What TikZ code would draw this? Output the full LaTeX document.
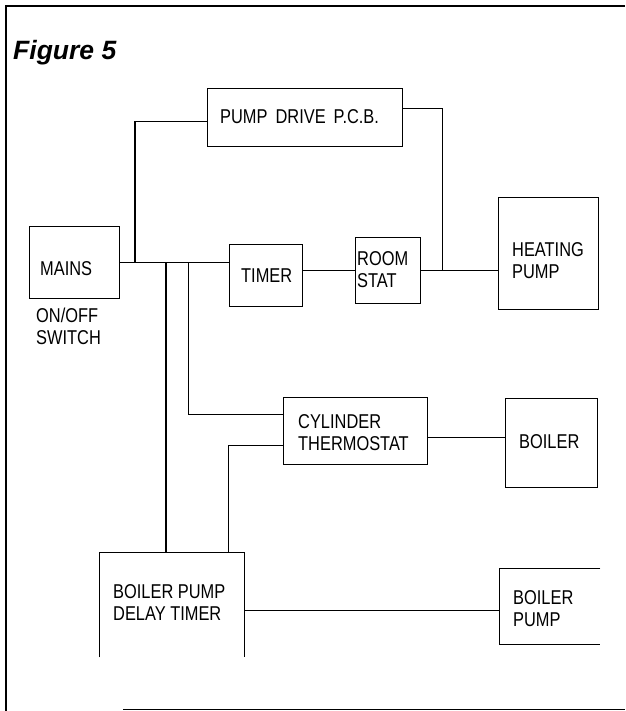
\documentclass[tikz,border=0pt]{standalone}
\usepackage{fontspec}
\setmainfont{Liberation Sans}
\newfontfamily\lab[FakeStretch=0.82]{Liberation Sans}
\begin{document}
\begin{tikzpicture}[x=1pt,y=-1pt,
  box/.style={draw, line width=1pt, inner sep=0pt, anchor=north west},
  openbox/.style={inner sep=0pt, anchor=north west},
  wire/.style={line width=1pt},
  thickwire/.style={line width=1.8pt},
  lbl/.style={font=\lab\fontsize{20}{22}\selectfont, align=left, inner sep=0pt, anchor=base west}]
\useasboundingbox (0,0) rectangle (625,711);
% frame
\draw[line width=2pt] (6,711) -- (6,6) -- (625,6);
\draw[line width=1pt] (123,709) -- (625,709);
\node[inner sep=0pt, anchor=base west, font=\fontsize{26.5}{30}\selectfont\bfseries\itshape] (title) at (13,60) {Figure 5};
% boxes
\node[box, minimum width=195pt, minimum height=58pt] (pcb) at (207,88) {};
\node[box, minimum width=90pt, minimum height=72pt] (mains) at (29,226) {};
\node[box, minimum width=73pt, minimum height=62pt] (timer) at (229,244) {};
\node[box, minimum width=65pt, minimum height=66pt] (room) at (355,237) {};
\node[box, minimum width=100pt, minimum height=112pt] (heat) at (498,197) {};
\node[box, minimum width=144pt, minimum height=67pt] (cyl) at (283,397) {};
\node[box, minimum width=92pt, minimum height=89pt] (boiler) at (505,398) {};
\node[openbox, minimum width=145pt, minimum height=105pt] (bpdt) at (99,552) {};
\node[openbox, minimum width=101pt, minimum height=76pt] (bpump) at (499,568) {};
\draw[line width=1pt] (bpdt.south west) -- (bpdt.north west) -- (bpdt.north east) -- (bpdt.south east);
\draw[line width=1pt] (bpump.north east) -- (bpump.north west) -- (bpump.south west) -- (bpump.south east);
% labels
\node[lbl] (tpcb) at (220,124) {PUMP\hspace{8pt}DRIVE\hspace{8pt}P.C.B.};
\node[lbl] (tmains) at (40,275) {MAINS};
\node[lbl] (tsw) at (36,344) {ON/OFF\\SWITCH};
\node[lbl] (ttimer) at (241,282) {TIMER};
\node[lbl] (troom) at (357,287) {ROOM\\STAT};
\node[lbl] (theat) at (512,278) {HEATING\\PUMP};
\node[lbl] (tcyl) at (298,450) {CYLINDER\\THERMOSTAT};
\node[lbl] (tboiler) at (519,448) {BOILER};
\node[lbl] (tbpdt) at (113,620) {BOILER PUMP\\DELAY TIMER};
\node[lbl] (tbpump) at (513,626) {BOILER\\PUMP};
% junctions
\coordinate (jP) at (135,262);
\coordinate (jB) at (166,262);
\coordinate (jC) at (188,262);
\coordinate (jH) at (442,270);
\coordinate (jD) at (228,552);
\coordinate (bpw) at ([yshift=-4pt]bpump.west);
% wires
\draw[thickwire] (mains.east) -- (mains.east -| timer.west);
\draw[thickwire] (jP) |- ([yshift=-4pt]pcb.west);
\draw[wire] ([yshift=9pt]pcb.east) -| (jH);
\draw[thickwire] (room.east) -- (room.east -| heat.west);
\draw[wire] (timer.east |- room.west) -- (room.west);
\draw[thickwire] (jB) -- (jB |- bpdt.north);
\draw[wire] (jC) |- ([yshift=17pt]cyl.west);
\draw[wire] (jD) |- ([yshift=-14.5pt]cyl.west);
\draw[wire] ([yshift=-6.5pt]cyl.east) -- ([yshift=-6.5pt]cyl.east -| boiler.west);
\draw[wire] (bpw) -- (bpw -| bpdt.east);
\end{tikzpicture}
\end{document}
